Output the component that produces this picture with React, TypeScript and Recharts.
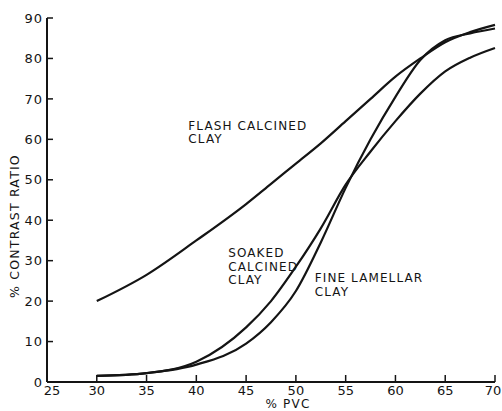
import React from 'react';
import { LineChart, Line, XAxis, YAxis, ReferenceDot } from 'recharts';

// values
const pvc = [30, 35, 40, 45, 47.5, 50, 52.5, 55, 57.5, 60, 62.5, 65, 67.5, 70];
const flashCalcined = [20, 26.5, 35, 44, 49, 54, 59, 64.5, 70, 75.5, 80, 84, 86.5, 88.3];
const soakedCalcined = [1.5, 2.2, 5, 13.5, 20, 28.5, 38, 48.8, 57, 64.5, 71.3, 76.8, 80.2, 82.6];
const fineLamellar = [1.5, 2.2, 4.3, 9.5, 14.8, 22.5, 34.5, 48, 60, 70.5, 79.6, 84.5, 86.2, 87.4];

const xTicks = [25, 30, 35, 40, 45, 50, 55, 60, 65, 70];
const yTicks = [0, 10, 20, 30, 40, 50, 60, 70, 80, 90];

// curve labels: [pvc, ratio, lines]
const curveLabels: { x: number; y: number; lines: string[] }[] = [
  { x: 39.2, y: 62.4, lines: ['FLASH CALCINED', 'CLAY'] },
  { x: 43.2, y: 30.9, lines: ['SOAKED', 'CALCINED', 'CLAY'] },
  { x: 51.9, y: 24.7, lines: ['FINE LAMELLAR', 'CLAY'] },
];

const data = pvc.map((p, i) => ({
  pvc: p,
  flash: flashCalcined[i],
  soaked: soakedCalcined[i],
  fine: fineLamellar[i],
}));

const W = 502;
const H = 411;
const INK = '#141414';
const FONT = '"DejaVu Sans", sans-serif';

const tickStyle = { fontSize: 13, fill: INK, fontFamily: FONT, letterSpacing: 1 };

// x tick labels, kept inside the picture and clear of the y "0"
const XTick = ({ x, y, payload }: any) => {
  const cx = Math.max(Math.min(x, W - 9), 52);
  return (
    <text x={cx} y={y} dy="0.71em" textAnchor="middle" fontSize={13} fontFamily={FONT} fill={INK}>
      {payload.value}
    </text>
  );
};

const YLabel = ({ viewBox }: any) => {
  const x = viewBox.x + 14;
  const y = viewBox.y + viewBox.height / 2 + 26;
  return (
    <text
      x={x}
      y={y}
      transform={`rotate(-90, ${x}, ${y})`}
      textAnchor="middle"
      dominantBaseline="central"
      fontSize={12.5}
      fontFamily={FONT}
      letterSpacing={1.2}
      fill={INK}
    >
      % CONTRAST RATIO
    </text>
  );
};

const XLabel = ({ viewBox }: any) => (
  <text
    x={viewBox.x + viewBox.width / 2 + 17}
    y={viewBox.y + viewBox.height - 3}
    textAnchor="middle"
    fontSize={12}
    fontFamily={FONT}
    letterSpacing={1.2}
    fill={INK}
  >
    % PVC
  </text>
);

const curveText = (lines: string[]) => (props: any) => (
  <text x={props.cx} y={props.cy} fontSize={12} fontFamily={FONT} letterSpacing={1.1} fill={INK}>
    {lines.map((l, i) => (
      <tspan key={l + i} x={props.cx} dy={i === 0 ? 0 : 13.5}>
        {l}
      </tspan>
    ))}
  </text>
);

const App = () => {
  return (
    <div style={{ position: 'absolute', left: 0, top: 0, background: '#fff' }}>
      <LineChart width={W} height={H} data={data} margin={{ top: 18, right: 7, bottom: 0, left: 0 }}>
        <XAxis
          dataKey="pvc"
          type="number"
          domain={[25, 70]}
          ticks={xTicks}
          height={29}
          tickSize={-7}
          tickMargin={11}
          tick={<XTick />}
          axisLine={{ stroke: INK, strokeWidth: 2 }}
          tickLine={{ stroke: INK, strokeWidth: 1.5 }}
          label={<XLabel />}
        />
        <YAxis
          type="number"
          domain={[0, 90]}
          ticks={yTicks}
          width={47}
          tickSize={-6}
          tickMargin={10}
          tick={tickStyle}
          axisLine={{ stroke: INK, strokeWidth: 2 }}
          tickLine={{ stroke: INK, strokeWidth: 1.5 }}
          label={<YLabel />}
        />
        <Line type="monotone" dataKey="flash" stroke={INK} strokeWidth={2.2} dot={false} isAnimationActive={false} />
        <Line type="monotone" dataKey="soaked" stroke={INK} strokeWidth={2.2} dot={false} isAnimationActive={false} />
        <Line type="monotone" dataKey="fine" stroke={INK} strokeWidth={2.2} dot={false} isAnimationActive={false} />
        {curveLabels.map((c) => (
          <ReferenceDot key={c.lines[0]} x={c.x} y={c.y} r={0} ifOverflow="visible" shape={curveText(c.lines)} />
        ))}
      </LineChart>
    </div>
  );
};

export default App;
